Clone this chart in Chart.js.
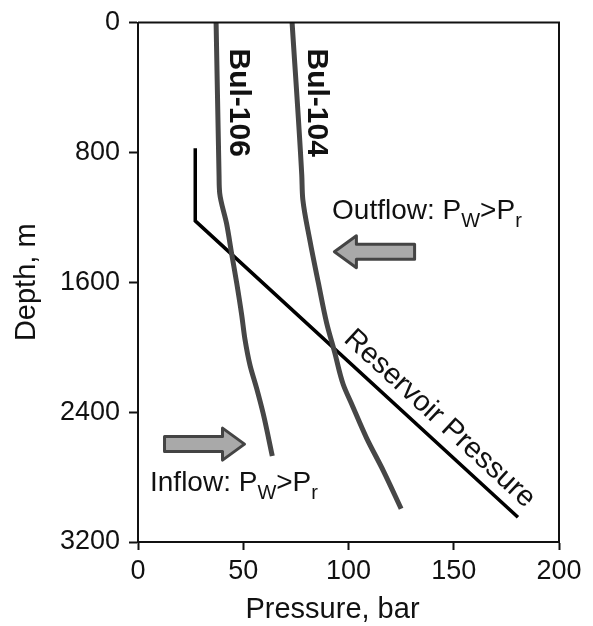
<!DOCTYPE html>
<html>
<head>
<meta charset="utf-8">
<script src="https://cdn.jsdelivr.net/npm/chart.js@4.4.1/dist/chart.umd.min.js"></script>
<style>
  html, body { margin: 0; padding: 0; background: #fff; }
  #wrap { width: 593px; height: 626px; }
</style>
</head>
<body>
<div id="wrap"><canvas id="c" width="593" height="626"></canvas></div>
<script>
// Axis ticks
const pressureTicks = [0, 50, 100, 150, 200];   // bar
const depthTicks = [0, 800, 1600, 2400, 3200];   // m

// Well pressure profiles (pressure in bar vs. depth in m)
const bul106Pressure = [37.1, 38.5, 38.8, 42.1, 44.5, 46.9, 49.3, 50.8, 53.2, 56.4, 59.5, 63.8];
const bul106Depth    = [0,    940,  1050, 1240, 1425, 1605, 1805, 1950, 2110, 2255, 2410, 2670];

const bul104Pressure = [73.2, 77.8, 78.3, 81.7, 85.7, 89.6, 93.4, 97.5, 101.5, 108.6, 116.5, 125.0];
const bul104Depth    = [0,    940,  1090, 1345, 1605, 1850, 2030, 2230, 2350,  2560,  2760,  2995];

// Reservoir pressure trend
const reservoirPressure = [27.2, 27.2, 180.5];
const reservoirDepth    = [775,  1222, 3048];

// Text and arrow anchors (data units)
const wellLabels = [
  { text: 'Bul-106', p: 47.7, d: 494 },
  { text: 'Bul-104', p: 84.9, d: 494 }
];
const flowNotes = [
  { parts: [['Outflow: P', false], ['W', true], ['>P', false], ['r', true]], p: 92.2, d: 1212 },
  { parts: [['Inflow: P', false], ['W', true], ['>P', false], ['r', true]], p: 5.7, d: 2885 }
];
const flowArrows = [
  { tail: 131.4, tip: 93.3, d: 1412 },
  { tail: 12.6, tip: 50.6, d: 2597 }
];
const reservoirLabel = { text: 'Reservoir Pressure', p: 136.8, d: 2532, offset: 20 };

const FONT = '"Liberation Sans", Arial, Helvetica, sans-serif';
Chart.defaults.font.family = FONT;
Chart.defaults.color = '#111';

const pts = (xs, ys) => xs.map((x, i) => ({ x: x, y: ys[i] }));

const decorations = {
  id: 'decorations',
  afterDatasetsDraw(chart) {
    const { ctx, chartArea: a, scales: { x, y } } = chart;
    ctx.save();

    // frame around the plot area
    ctx.strokeStyle = '#111';
    ctx.lineWidth = 2;
    ctx.beginPath();
    ctx.moveTo(a.left, a.top);
    ctx.lineTo(a.right, a.top);
    ctx.lineTo(a.right, a.bottom);
    ctx.stroke();

    // well names, written down the curves
    ctx.fillStyle = '#111';
    ctx.font = 'bold 30px ' + FONT;
    ctx.textAlign = 'center';
    ctx.textBaseline = 'middle';
    wellLabels.forEach(l => {
      ctx.save();
      ctx.translate(x.getPixelForValue(l.p), y.getPixelForValue(l.d));
      ctx.rotate(Math.PI / 2);
      ctx.fillText(l.text, 0, 0);
      ctx.restore();
    });

    // flow notes with subscripts
    ctx.textAlign = 'left';
    ctx.textBaseline = 'alphabetic';
    flowNotes.forEach(n => {
      let cx = x.getPixelForValue(n.p);
      const by = y.getPixelForValue(n.d);
      n.parts.forEach(([t, sub]) => {
        ctx.font = (sub ? '20px ' : '28px ') + FONT;
        ctx.fillText(t, cx, by + (sub ? 8 : 0));
        cx += ctx.measureText(t).width;
      });
    });

    // block arrows
    flowArrows.forEach(ar => {
      const tx = x.getPixelForValue(ar.tail);
      const hx = x.getPixelForValue(ar.tip);
      const cy = y.getPixelForValue(ar.d);
      const dir = Math.sign(hx - tx);
      const headLen = 22, body = 7.5, head = 16;
      const bx = hx - dir * headLen;
      ctx.beginPath();
      ctx.moveTo(tx, cy - body);
      ctx.lineTo(bx, cy - body);
      ctx.lineTo(bx, cy - head);
      ctx.lineTo(hx, cy);
      ctx.lineTo(bx, cy + head);
      ctx.lineTo(bx, cy + body);
      ctx.lineTo(tx, cy + body);
      ctx.closePath();
      ctx.fillStyle = '#a9a9a9';
      ctx.fill();
      ctx.lineJoin = 'round';
      ctx.lineWidth = 3;
      ctx.strokeStyle = '#444';
      ctx.stroke();
    });

    // label along the reservoir pressure line
    const x1 = x.getPixelForValue(reservoirPressure[1]), y1 = y.getPixelForValue(reservoirDepth[1]);
    const x2 = x.getPixelForValue(reservoirPressure[2]), y2 = y.getPixelForValue(reservoirDepth[2]);
    const ang = Math.atan2(y2 - y1, x2 - x1);
    const ax = x.getPixelForValue(reservoirLabel.p) + reservoirLabel.offset * Math.sin(ang);
    const ay = y.getPixelForValue(reservoirLabel.d) - reservoirLabel.offset * Math.cos(ang);
    ctx.save();
    ctx.translate(ax, ay);
    ctx.rotate(ang);
    ctx.fillStyle = '#111';
    ctx.font = '29px ' + FONT;
    ctx.textAlign = 'center';
    ctx.textBaseline = 'middle';
    ctx.fillText(reservoirLabel.text, 0, 0);
    ctx.restore();

    // x-axis title
    ctx.fillStyle = '#111';
    ctx.font = '29px ' + FONT;
    ctx.textAlign = 'center';
    ctx.textBaseline = 'alphabetic';
    ctx.fillText('Pressure, bar', (a.left + a.right) / 2 - 16, a.bottom + 76);

    ctx.restore();
  }
};

new Chart(document.getElementById('c'), {
  type: 'scatter',
  data: {
    datasets: [
      {
        label: 'Bul-106',
        data: pts(bul106Pressure, bul106Depth),
        indexAxis: 'y',
        showLine: true, borderColor: '#464646', borderWidth: 5,
        pointRadius: 0, cubicInterpolationMode: 'monotone', borderJoinStyle: 'round'
      },
      {
        label: 'Bul-104',
        data: pts(bul104Pressure, bul104Depth),
        indexAxis: 'y',
        showLine: true, borderColor: '#464646', borderWidth: 5,
        pointRadius: 0, cubicInterpolationMode: 'monotone', borderJoinStyle: 'round'
      },
      {
        label: 'Reservoir Pressure',
        data: pts(reservoirPressure, reservoirDepth),
        showLine: true, borderColor: '#000', borderWidth: 3.5,
        pointRadius: 0, tension: 0, borderJoinStyle: 'miter'
      }
    ]
  },
  options: {
    responsive: false,
    animation: false,
    devicePixelRatio: 1,
    layout: { padding: { top: 15, right: 34, left: 0, bottom: 0 } },
    plugins: { legend: { display: false }, tooltip: { enabled: false } },
    scales: {
      x: {
        type: 'linear', position: 'bottom', min: 0, max: 200,
        afterFit(s) { s.height = 84; },
        afterBuildTicks(s) { s.ticks = pressureTicks.map(v => ({ value: v })); },
        ticks: { font: { size: 27, lineHeight: 1 }, color: '#111', padding: 8, maxRotation: 0,
                 callback: v => String(v) },
        grid: { drawOnChartArea: false, drawTicks: true, tickLength: 8, tickColor: '#111', tickWidth: 2 },
        border: { color: '#111', width: 2 },
        title: { display: false }
      },
      y: {
        type: 'linear', position: 'left', reverse: true, min: 0, max: 3200,
        afterFit(s) { s.width = 138; },
        afterBuildTicks(s) { s.ticks = depthTicks.map(v => ({ value: v })); },
        ticks: { font: { size: 27, lineHeight: 1 }, color: '#111', padding: 9,
                 callback: v => String(v) },
        grid: { drawOnChartArea: false, drawTicks: true, tickLength: 9, tickColor: '#111', tickWidth: 2 },
        border: { color: '#111', width: 2 },
        title: { display: true, text: 'Depth, m', font: { size: 29 }, color: '#111', padding: { top: 10, bottom: 0 } }
      }
    }
  },
  plugins: [decorations]
});
</script>
</body>
</html>
